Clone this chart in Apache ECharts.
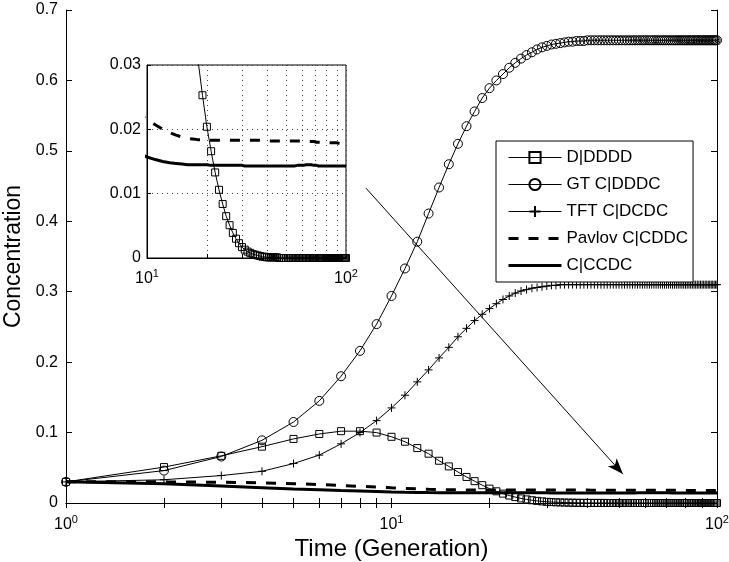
<!DOCTYPE html>
<html>
<head>
<meta charset="utf-8">
<script src="https://cdn.jsdelivr.net/npm/echarts@6/dist/echarts.min.js"></script>
<style>
  html, body { margin: 0; padding: 0; background: #fff; }
  #chart { width: 729px; height: 562px; }
</style>
</head>
<body>
<div id="chart"></div>
<script>
// generations 1..100 (x values)
const generations = Array.from({ length: 100 }, (_, i) => i + 1)

const seriesNames = ['D|DDDD', 'GT C|DDDC', 'TFT C|DCDC', 'Pavlov C|CDDC', 'C|CCDC']

const dDDDD = [
  0.030, 0.051, 0.067, 0.080, 0.091, 0.098, 0.102, 0.102, 0.100, 0.094,
  0.087, 0.078, 0.070, 0.060, 0.052, 0.044, 0.037, 0.031, 0.0253, 0.0204,
  0.0166, 0.0133, 0.0106, 0.0084, 0.0065, 0.0051, 0.0039, 0.0030, 0.0023, 0.0017,
  0.0013, 0.0010, 0.0008, 0.0006, 0.0005, 0.0004, 0.0003, 0.0002, 0.0002, 0.0001,
  0.0001, 0.0001, 0.0001, 0.0001, 0.0001, 0, 0, 0, 0, 0,
  0, 0, 0, 0, 0, 0, 0, 0, 0, 0,
  0, 0, 0, 0, 0, 0, 0, 0, 0, 0,
  0, 0, 0, 0, 0, 0, 0, 0, 0, 0,
  0, 0, 0, 0, 0, 0, 0, 0, 0, 0,
  0, 0, 0, 0, 0, 0, 0, 0, 0, 0
]
const gtDDDC = [
  0.030, 0.046, 0.066, 0.089, 0.115, 0.145, 0.180, 0.216, 0.254, 0.294,
  0.333, 0.371, 0.411, 0.448, 0.481, 0.510, 0.535, 0.556, 0.575, 0.589,
  0.600, 0.609, 0.618, 0.625, 0.631, 0.636, 0.640, 0.644, 0.647, 0.649,
  0.651, 0.652, 0.653, 0.654, 0.655, 0.655, 0.656, 0.656, 0.656, 0.657,
  0.657, 0.657, 0.657, 0.657, 0.657, 0.657, 0.657, 0.657, 0.657, 0.657,
  0.657, 0.657, 0.657, 0.657, 0.657, 0.657, 0.657, 0.657, 0.657, 0.657,
  0.657, 0.657, 0.657, 0.657, 0.657, 0.657, 0.657, 0.657, 0.657, 0.657,
  0.657, 0.657, 0.657, 0.657, 0.657, 0.657, 0.657, 0.657, 0.657, 0.657,
  0.657, 0.657, 0.657, 0.657, 0.657, 0.657, 0.657, 0.657, 0.657, 0.657,
  0.657, 0.657, 0.657, 0.657, 0.657, 0.657, 0.657, 0.657, 0.657, 0.657
]
const tftDCDC = [
  0.030, 0.033, 0.039, 0.045, 0.056, 0.068, 0.084, 0.100, 0.117, 0.135,
  0.153, 0.172, 0.189, 0.206, 0.221, 0.236, 0.248, 0.259, 0.268, 0.276,
  0.283, 0.289, 0.294, 0.298, 0.301, 0.303, 0.305, 0.306, 0.307, 0.308,
  0.309, 0.309, 0.310, 0.310, 0.310, 0.310, 0.310, 0.310, 0.310, 0.310,
  0.310, 0.310, 0.310, 0.310, 0.310, 0.310, 0.310, 0.310, 0.310, 0.310,
  0.310, 0.310, 0.310, 0.310, 0.310, 0.310, 0.310, 0.310, 0.310, 0.310,
  0.310, 0.310, 0.310, 0.310, 0.310, 0.310, 0.310, 0.310, 0.310, 0.310,
  0.310, 0.310, 0.310, 0.310, 0.310, 0.310, 0.310, 0.310, 0.310, 0.310,
  0.310, 0.310, 0.310, 0.310, 0.310, 0.310, 0.310, 0.310, 0.310, 0.310,
  0.310, 0.310, 0.310, 0.310, 0.310, 0.310, 0.310, 0.310, 0.310, 0.310
]
const pavlovCDDC = [
  0.0300, 0.0300, 0.0295, 0.0286, 0.0275, 0.0262, 0.0249, 0.0237, 0.0226, 0.0215,
  0.0207, 0.0200, 0.0195, 0.0191, 0.0188, 0.0186, 0.0185, 0.0184, 0.0184, 0.0183,
  0.0183, 0.0183, 0.0183, 0.0183, 0.0183, 0.0183, 0.0183, 0.0183, 0.0183, 0.0183,
  0.0183, 0.0183, 0.0183, 0.0183, 0.0183, 0.0183, 0.0183, 0.0183, 0.0183, 0.0183,
  0.0182, 0.0182, 0.0182, 0.0182, 0.0182, 0.0182, 0.0182, 0.0182, 0.0182, 0.0182,
  0.0182, 0.0182, 0.0182, 0.0182, 0.0182, 0.0182, 0.0182, 0.0182, 0.0182, 0.0182,
  0.0181, 0.0181, 0.0181, 0.0181, 0.0181, 0.0181, 0.0181, 0.0181, 0.0181, 0.0181,
  0.0180, 0.0180, 0.0180, 0.0180, 0.0180, 0.0180, 0.0180, 0.0180, 0.0180, 0.0180,
  0.0179, 0.0179, 0.0179, 0.0179, 0.0179, 0.0179, 0.0179, 0.0179, 0.0179, 0.0179,
  0.0179, 0.0178, 0.0178, 0.0178, 0.0178, 0.0178, 0.0178, 0.0179, 0.0179, 0.0179
]
const cCCDC = [
  0.0300, 0.0272, 0.0240, 0.0217, 0.0200, 0.0188, 0.0178, 0.0170, 0.0163, 0.0157,
  0.0153, 0.0150, 0.0148, 0.0147, 0.0146, 0.0145, 0.0145, 0.0145, 0.0145, 0.0145,
  0.0144, 0.0144, 0.0144, 0.0144, 0.0144, 0.0144, 0.0144, 0.0144, 0.0144, 0.0144,
  0.0143, 0.0143, 0.0143, 0.0143, 0.0143, 0.0143, 0.0143, 0.0143, 0.0143, 0.0143,
  0.0143, 0.0143, 0.0143, 0.0143, 0.0143, 0.0143, 0.0143, 0.0143, 0.0143, 0.0143,
  0.0143, 0.0143, 0.0143, 0.0143, 0.0143, 0.0143, 0.0144, 0.0144, 0.0144, 0.0144,
  0.0144, 0.0144, 0.0145, 0.0145, 0.0145, 0.0145, 0.0145, 0.0145, 0.0144, 0.0144,
  0.0144, 0.0144, 0.0143, 0.0143, 0.0143, 0.0143, 0.0143, 0.0143, 0.0143, 0.0143,
  0.0143, 0.0143, 0.0143, 0.0143, 0.0143, 0.0143, 0.0143, 0.0143, 0.0143, 0.0143,
  0.0143, 0.0143, 0.0143, 0.0143, 0.0143, 0.0143, 0.0143, 0.0143, 0.0143, 0.0143
]

const mainTickValues = [1, 2, 3, 4, 5, 6, 7, 8, 9, 10, 20, 30, 40, 50, 60, 70, 80, 90, 100]
const insetTickValues = [10, 20, 30, 40, 50, 60, 70, 80, 90, 100]
// arrow annotation (data coords): from / to
const arrowFrom = [8.35, 0.447]
const arrowTo = [51.4, 0.041]

const FONT = 'Liberation Sans, Arial, Helvetica, sans-serif'
const allValues = [dDDDD, gtDDDC, tftDCDC, pavlovCDDC, cCCDC]
const pairs = vals => generations.map((g, i) => [g, vals[i]])

const styles = [
  { symbol: 'rect', symbolSize: 7, width: 1, type: 'solid' },
  { symbol: 'circle', symbolSize: 9, width: 1, type: 'solid' },
  { symbol: 'path://M0,5L10,5M5,0L5,10', symbolSize: 8, width: 1, type: 'solid' },
  { symbol: 'none', symbolSize: 0, width: 3, type: [10, 10] },
  { symbol: 'none', symbolSize: 0, width: 3, type: 'solid' }
]

function makeSeries(idx, xi, yi, clip) {
  const s = styles[idx]
  return {
    name: seriesNames[idx],
    type: 'line',
    xAxisIndex: xi,
    yAxisIndex: yi,
    data: pairs(allValues[idx]),
    symbol: s.symbol,
    symbolSize: s.symbolSize,
    showSymbol: s.symbol !== 'none',
    showAllSymbol: true,
    clip: clip,
    silent: true,
    lineStyle: { color: '#000', width: s.width, type: s.type },
    itemStyle: { color: 'rgba(0,0,0,0)', borderColor: '#000', borderWidth: 1 },
    emphasis: { disabled: true }
  }
}

// legend entries: thick lines without a marker for the last two
const legendData = seriesNames.map((name, i) => {
  const s = styles[i]
  const item = { name: name, lineStyle: { color: '#000', width: s.width, type: s.type } }
  if (s.symbol === 'none') {
    item.itemStyle = { color: 'rgba(0,0,0,0)', borderColor: 'rgba(0,0,0,0)', borderWidth: 0 }
  }
  return item
})

const supLabel = v => '10{e|' + Math.round(Math.log10(v)) + '}'
const labelRich = { e: { fontSize: 11, fontFamily: FONT, color: '#000', padding: [0, 0, 10, 0] } }

const chart = echarts.init(document.getElementById('chart'))

const series = []
for (let i = 0; i < 5; i++) series.push(makeSeries(i, 0, 0, false))
for (let i = 0; i < 5; i++) series.push(makeSeries(i, 2, 2, true))
series[0].markLine = {
  silent: true,
  symbol: ['none', 'arrow'],
  symbolSize: [9, 16],
  label: { show: false },
  lineStyle: { color: '#000', width: 1, type: 'solid' },
  data: [[{ coord: arrowFrom }, { coord: arrowTo }]]
}

chart.setOption({
  animation: false,
  backgroundColor: '#fff',
  textStyle: { fontFamily: FONT, color: '#000' },
  grid: [
    { left: 66, right: 12, top: 10, bottom: 59, outerBoundsMode: 'none', containLabel: false },
    {
      left: 147, top: 65, width: 199, height: 193, outerBoundsMode: 'none', containLabel: false,
      show: true, backgroundColor: '#fff', borderColor: '#000', borderWidth: 1
    }
  ],
  legend: {
    orient: 'vertical',
    left: 496,
    top: 141,
    padding: [8, 5, 8, 11],
    itemWidth: 53,
    itemHeight: 14,
    itemGap: 10,
    backgroundColor: '#fff',
    borderColor: '#000',
    borderWidth: 1,
    borderRadius: 0,
    selectedMode: false,
    textStyle: { fontSize: 17, color: '#000', fontFamily: FONT },
    data: legendData
  },
  xAxis: [
    {
      type: 'log', logBase: 10, min: 1, max: 100, gridIndex: 0,
      name: 'Time (Generation)', nameLocation: 'middle', nameGap: 32,
      nameTextStyle: { fontSize: 24, color: '#000', fontFamily: FONT },
      axisLine: { lineStyle: { color: '#000', width: 1 } },
      axisTick: { inside: true, length: 5, customValues: mainTickValues, lineStyle: { color: '#000' } },
      axisLabel: { fontSize: 16, color: '#000', margin: 11, formatter: supLabel, rich: labelRich },
      splitLine: { show: false }
    },
    {
      type: 'log', logBase: 10, min: 1, max: 100, gridIndex: 0, position: 'top',
      axisLine: { lineStyle: { color: '#000', width: 1 } },
      axisTick: { inside: true, length: 5, customValues: mainTickValues, lineStyle: { color: '#000' } },
      axisLabel: { show: false },
      splitLine: { show: false }
    },
    {
      type: 'log', logBase: 10, min: 10, max: 100, gridIndex: 1,
      axisLine: { lineStyle: { color: '#000', width: 1 } },
      axisTick: { inside: true, length: 4, customValues: insetTickValues, lineStyle: { color: '#000' } },
      axisLabel: { fontSize: 16, color: '#000', margin: 10, formatter: supLabel, rich: labelRich },
      splitLine: { show: true, lineStyle: { color: '#444', width: 1, type: [1, 4] } }
    }
  ],
  yAxis: [
    {
      type: 'value', min: 0, max: 0.7, interval: 0.1, gridIndex: 0,
      name: 'Concentration', nameLocation: 'middle', nameGap: 40,
      nameTextStyle: { fontSize: 23, color: '#000', fontFamily: FONT },
      axisLine: { show: true, lineStyle: { color: '#000', width: 1 } },
      axisTick: { show: true, inside: true, length: 6, lineStyle: { color: '#000' } },
      axisLabel: { fontSize: 16, color: '#000', margin: 8 },
      splitLine: { show: false }
    },
    {
      type: 'value', min: 0, max: 0.7, interval: 0.1, gridIndex: 0, position: 'right',
      axisLine: { show: true, lineStyle: { color: '#000', width: 1 } },
      axisTick: { show: true, inside: true, length: 6, lineStyle: { color: '#000' } },
      axisLabel: { show: false },
      splitLine: { show: false }
    },
    {
      type: 'value', min: 0, max: 0.03, interval: 0.01, gridIndex: 1,
      axisLine: { show: true, lineStyle: { color: '#000', width: 1 } },
      axisTick: { show: true, inside: true, length: 4, lineStyle: { color: '#000' } },
      axisLabel: { fontSize: 16, color: '#000', margin: 6 },
      splitLine: { show: true, lineStyle: { color: '#444', width: 1, type: [1, 4] } }
    }
  ],
  series: series
})
</script>
</body>
</html>
